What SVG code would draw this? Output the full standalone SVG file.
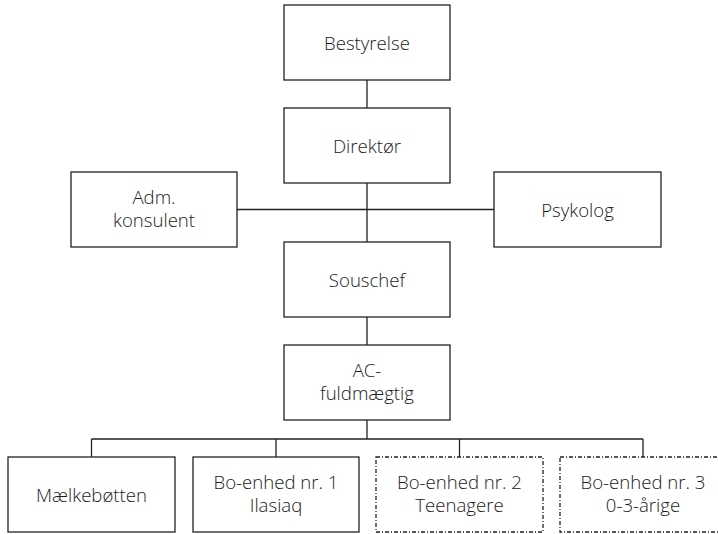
<svg xmlns="http://www.w3.org/2000/svg" width="718" height="534" viewBox="0 0 718 534">
<style>
rect{fill:#fff;stroke:#222;stroke-width:1.3}
rect.dash{stroke-dasharray:4,2,1,2}
text{font-family:"Open Sans","DejaVu Sans",sans-serif;font-weight:300;font-size:18.6px;fill:#1a1a1a;text-anchor:middle}
#connectors path{fill:none;stroke:#222;stroke-width:1.3}
</style>
<rect x="0" y="0" width="718" height="534" style="fill:#fff;stroke:none"/>
<g id="connectors">
<path d="M367 80V108M367 183V242M154 209.5H494M367 317V345M367 420V439M91.5 439H643M91.5 439V457M276 439V457M459.5 439V457M643 439V457"/>
</g>
<g id="bestyrelse"><rect x="284" y="5" width="166" height="75"/><text x="367" y="49.5">Bestyrelse</text></g>
<g id="direktor"><rect x="284" y="108" width="166" height="75"/><text x="367" y="152.5">Direktør</text></g>
<g id="adm"><rect x="71" y="172" width="166" height="75"/><text x="154" y="204">Adm.</text><text x="154" y="227">konsulent</text></g>
<g id="psykolog"><rect x="494" y="172" width="167" height="75"/><text x="577.5" y="216.5">Psykolog</text></g>
<g id="souschef"><rect x="284" y="242" width="166" height="75"/><text x="367" y="286.5">Souschef</text></g>
<g id="ac"><rect x="284" y="345" width="166" height="75"/><text x="367" y="377">AC-</text><text x="367" y="400">fuldmægtig</text></g>
<g id="maelkebotten"><rect x="8" y="457" width="167" height="75"/><text x="91.5" y="501.5">Mælkebøtten</text></g>
<g id="bo1"><rect x="193" y="457" width="166" height="75"/><text x="276" y="489">Bo-enhed nr. 1</text><text x="276" y="512">Ilasiaq</text></g>
<g id="bo2"><rect class="dash" x="376" y="457" width="167" height="75"/><text x="459.5" y="489">Bo-enhed nr. 2</text><text x="459.5" y="512">Teenagere</text></g>
<g id="bo3"><rect class="dash" x="560" y="457" width="166" height="75"/><text x="643" y="489">Bo-enhed nr. 3</text><text x="643" y="512">0-3-årige</text></g>
</svg>
